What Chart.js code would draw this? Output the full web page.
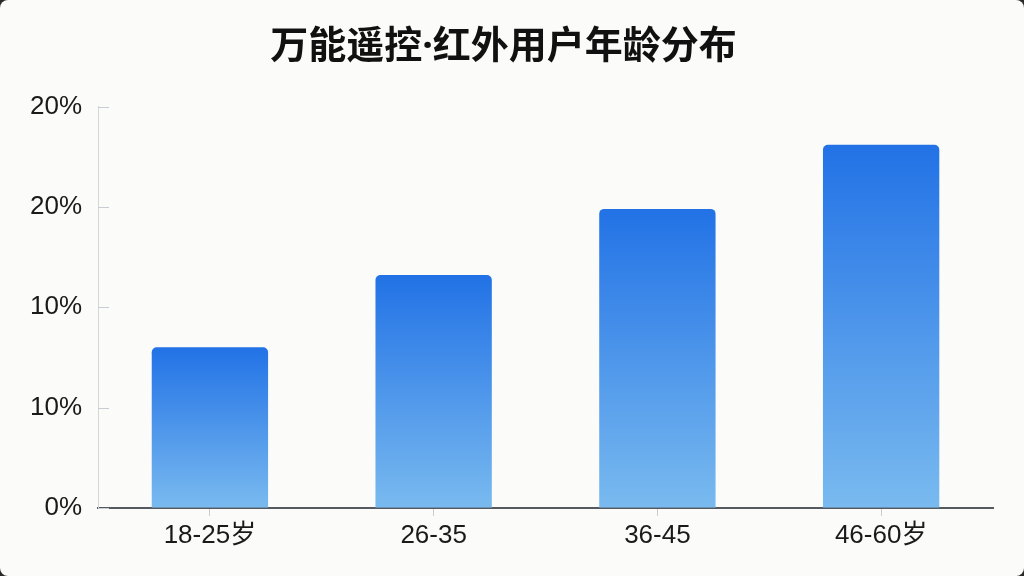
<!DOCTYPE html>
<html>
<head>
  <meta charset="utf-8">
  <title>万能遥控·红外用户年龄分布</title>
  <script src="https://cdn.jsdelivr.net/npm/chart.js"></script>
  <style>
    html, body { margin: 0; padding: 0; background: #2a2a2a; }
    #wrap { width: 1024px; height: 576px; background: #fbfbfa; border-radius: 8px; overflow: hidden; }
  </style>
</head>
<body>
  <div id="wrap">
    <canvas id="age-chart" width="1024" height="576"></canvas>
  </div>

  <script>
    // data
    let ageGroups = ["18-25岁", "26-35", "36-45", "46-60岁"];
    let userShare = [8.0, 11.6, 14.9, 18.1];
    let yTickLabels = ["0%", "10%", "10%", "20%", "20%"];

    let cjkFont = "'Liberation Sans', 'Noto Sans CJK SC', sans-serif";

    // each bar fades from deep blue at its top to light blue at the axis
    function barGradient(context) {
      let chart = context.chart;
      let area = chart.chartArea;
      if (!area || context.parsed === undefined) return "#3f8ae8";
      let top = chart.scales.y.getPixelForValue(context.parsed.y);
      let g = chart.ctx.createLinearGradient(0, top, 0, area.bottom);
      g.addColorStop(0, "#2272e6");
      g.addColorStop(1, "#79baef");
      return g;
    }

    // short tick marks pointing into the plot on the y axis
    let innerTicks = {
      id: "innerTicks",
      afterDraw(chart) {
        let ctx = chart.ctx;
        let y = chart.scales.y;
        let left = chart.chartArea.left;
        ctx.save();
        ctx.strokeStyle = "#c8cdd3";
        ctx.lineWidth = 1;
        y.ticks.forEach((t, i) => {
          let py = Math.round(y.getPixelForTick(i)) + 0.5;
          ctx.beginPath();
          ctx.moveTo(left, py);
          ctx.lineTo(left + 11, py);
          ctx.stroke();
        });
        ctx.restore();
      }
    };

    new Chart(document.getElementById("age-chart"), {
      type: "bar",
      data: {
        labels: ageGroups,
        datasets: [{
          data: userShare,
          backgroundColor: barGradient,
          borderRadius: { topLeft: 5, topRight: 5 },
          borderSkipped: "bottom",
          barPercentage: 0.52,
          categoryPercentage: 1
        }]
      },
      options: {
        responsive: false,
        animation: false,
        layout: { padding: { left: 14, right: 31, top: 0, bottom: 21 } },
        plugins: {
          legend: { display: false },
          tooltip: { enabled: false },
          title: {
            display: true,
            text: "万能遥控·红外用户年龄分布",
            color: "#111",
            font: { family: "'Noto Sans', 'Noto Sans CJK SC', sans-serif", size: 38, weight: "bold" },
            padding: { top: 24, bottom: 37 }
          }
        },
        scales: {
          x: {
            grid: {
              display: true,
              offset: false,
              drawOnChartArea: false,
              drawTicks: true,
              tickLength: 8,
              tickColor: "#c8cdd3"
            },
            border: { display: true, color: "#555a60", width: 2 },
            ticks: {
              color: "#1a1a1a",
              padding: 4,
              font: { family: cjkFont, size: 26 }
            }
          },
          y: {
            min: 0,
            max: 20,
            grid: { display: false, drawTicks: false },
            border: { display: true, color: "#d3d7dc", width: 1 },
            ticks: {
              stepSize: 5,
              padding: 16,
              color: "#1a1a1a",
              font: { family: cjkFont, size: 26 },
              callback: (value, index) => yTickLabels[index]
            }
          }
        }
      },
      plugins: [innerTicks]
    });
  </script>
</body>
</html>
